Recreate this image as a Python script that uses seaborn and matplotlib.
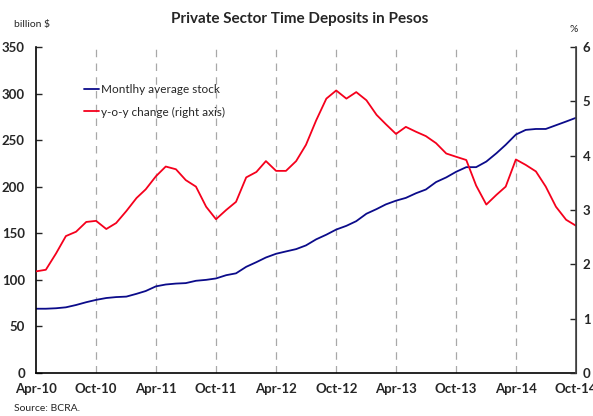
import pandas as pd
import seaborn as sns
import matplotlib.pyplot as plt

# monthly data, Apr-10 .. Oct-14
months = pd.date_range("2010-04-01", periods=55, freq="MS")

stock = [69, 69, 69.5, 70.5, 73, 76, 78.5, 80.5, 81.5, 82, 85, 88,
         93, 95, 96, 96.5, 99, 100, 101.5, 105, 107, 114, 119, 124,
         128, 130.5, 133, 137, 143.5, 148.5, 154, 158, 163, 171, 176, 181,
         185, 188, 193, 197, 205, 210, 216, 221, 221, 227, 236, 245,
         256, 261, 262, 262, 266, 270, 274]

yoy = [1.87, 1.9, 2.2, 2.52, 2.6, 2.78, 2.8, 2.65, 2.76, 2.98, 3.22, 3.38,
       3.62, 3.8, 3.75, 3.55, 3.43, 3.06, 2.83, 3.0, 3.15, 3.6, 3.7, 3.9,
       3.72, 3.72, 3.9, 4.2, 4.65, 5.05, 5.2, 5.05, 5.17, 5.02, 4.75, 4.58,
       4.4, 4.53, 4.44, 4.36, 4.23, 4.04, 3.98, 3.92, 3.45, 3.1, 3.28, 3.43,
       3.93, 3.83, 3.71, 3.43, 3.06, 2.82, 2.71]

tick_labels = ["Apr-10", "Oct-10", "Apr-11", "Oct-11", "Apr-12",
               "Oct-12", "Apr-13", "Oct-13", "Apr-14", "Oct-14"]

df = pd.DataFrame({"month": months, "stock": stock, "yoy": yoy})

sns.set_style("white")
plt.rcParams["font.family"] = ["Lato", "DejaVu Sans"]

fig = plt.figure(figsize=(5.93, 4.16), dpi=100)
ax = fig.add_axes([0.0607, 0.1034, 0.9106, 0.7836])
ax2 = ax.twinx()

sns.lineplot(data=df, x="month", y="stock", ax=ax, color="#0b0b8a", lw=1.3,
             label="Montlhy average stock", legend=False)
sns.lineplot(data=df, x="month", y="yoy", ax=ax2, color="#f5001c", lw=1.3,
             label="y-o-y change (right axis)", legend=False)

ticks = months[::6]
ax.set_xlim(months[0], months[-1])
ax.set_xticks(ticks)
ax.set_xticklabels(tick_labels, fontsize=9.5, fontweight="bold")
ax.set_ylim(0, 350)
ax.set_yticks(range(0, 351, 50))
ax.tick_params(axis="y", labelsize=9.5, direction="in", length=4, width=1, pad=8)
ax.tick_params(axis="x", direction="in", length=4, width=1, pad=7)
for lab in ax.get_yticklabels():
    lab.set_fontweight("bold")
ax2.set_ylim(0, 6)
ax2.set_yticks(range(0, 7))
ax2.tick_params(axis="y", labelsize=9.5, direction="in", length=4, width=1, pad=5)
for lab in ax2.get_yticklabels():
    lab.set_fontweight("bold")
ax.set_xlabel("")
ax.set_ylabel("")
ax2.set_ylabel("")

for t in ticks[1:-1]:
    ax.axvline(t, color="#a8a8a8", lw=0.9, ls=(0, (6, 5)), zorder=0)

for a in (ax, ax2):
    a.spines["top"].set_visible(False)
ax.spines["left"].set_color("black")
ax.spines["bottom"].set_color("black")
ax2.spines["right"].set_color("#444444")
ax2.spines["left"].set_visible(False)
ax2.spines["bottom"].set_visible(False)
ax2.spines["right"].set_linewidth(1.2)
ax.spines["left"].set_linewidth(1.2)
ax.spines["bottom"].set_linewidth(1.2)

h1, l1 = ax.get_legend_handles_labels()
h2, l2 = ax2.get_legend_handles_labels()
ax.legend(h1 + h2, l1 + l2, loc="upper left", bbox_to_anchor=(0.07, 0.92),
          frameon=False, fontsize=8.5, handlelength=1.2, handletextpad=0.2,
          labelspacing=1.0)

fig.text(0.506, 0.955, "Private Sector Time Deposits in Pesos", ha="center",
         va="center", fontsize=11, fontweight="bold")
fig.text(0.024, 0.94, "billion $", fontsize=7.5, va="center")
fig.text(0.968, 0.928, "%", fontsize=7.5, va="center", ha="center")
fig.text(0.024, 0.018, "Source: BCRA.", fontsize=7.5, va="center")

fig.savefig("out.png", dpi=100)
